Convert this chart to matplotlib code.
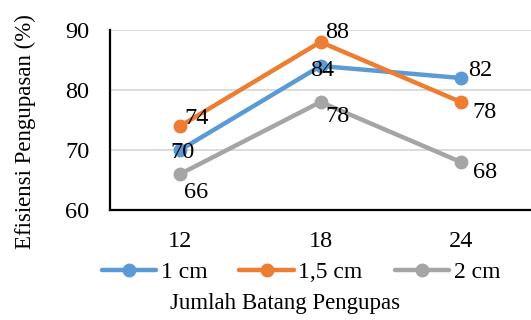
import matplotlib
matplotlib.use("Agg")
import matplotlib.pyplot as plt

categories = ["12", "18", "24"]
series_names = ["1 cm", "1,5 cm", "2 cm"]
s1 = [70, 84, 82]
s2 = [74, 88, 78]
s3 = [66, 78, 68]
colors = ["#5B9BD5", "#ED7D31", "#A5A5A5"]
yticks = [60, 70, 80, 90]

# label offsets in pixels (dx, dy)
offsets = [
    [(2, -3), (2, -4), (19, 8)],
    [(16, 8), (17, 9), (24, -11)],
    [(16, -18), (17, -15), (24, -11)],
]

plt.rcParams['font.family'] = ['Liberation Serif', 'DejaVu Serif']

fig = plt.figure(figsize=(5.31, 3.2), dpi=100)
ax = fig.add_axes([110/531, 1-210/320, 421/531, 180/320])

x = list(range(len(categories)))
for vals, name, c, offs in zip([s1, s2, s3], series_names, colors, offsets):
    ax.plot(x, vals, color=c, lw=3.2, marker='o', markersize=9, label=name,
            solid_capstyle='round', zorder=3)
    for xi, v, (dx, dy) in zip(x, vals, offs):
        ax.annotate(str(v), (xi, v), xytext=(dx, dy), textcoords='offset pixels',
                    ha='center', va='center', fontsize=17.5, color='black', zorder=4)

ax.set_xlim(-0.5, 2.5)
ax.set_ylim(60, 90)
ax.set_yticks(yticks)
ax.set_xticks(x)
ax.set_xticklabels(categories)
ax.tick_params(axis='both', length=0, labelsize=17.5)
ax.tick_params(axis='y', pad=15)
ax.tick_params(axis='x', pad=15)
ax.grid(axis='y', color='#D9D9D9', lw=1.3, zorder=0)
ax.set_axisbelow(True)
for s in ['top', 'right']:
    ax.spines[s].set_visible(False)
for s in ['left', 'bottom']:
    ax.spines[s].set_linewidth(1.6)
    ax.spines[s].set_color('black')

fig.text(25/531, 1-132/320, "Efisiensi Pengupasan (%)", rotation=90,
         ha='center', va='center', fontsize=16.5)
fig.text(285/531, 1-304/320, "Jumlah Batang Pengupas", ha='center', va='center',
         fontsize=16.5)

leg = fig.legend(loc='center', bbox_to_anchor=(301/531, 1-272/320), ncol=3,
                 frameon=False, fontsize=17, handlelength=2.3,
                 handletextpad=0.2, columnspacing=1.35, borderaxespad=0)

fig.savefig("out.png", dpi=100)
